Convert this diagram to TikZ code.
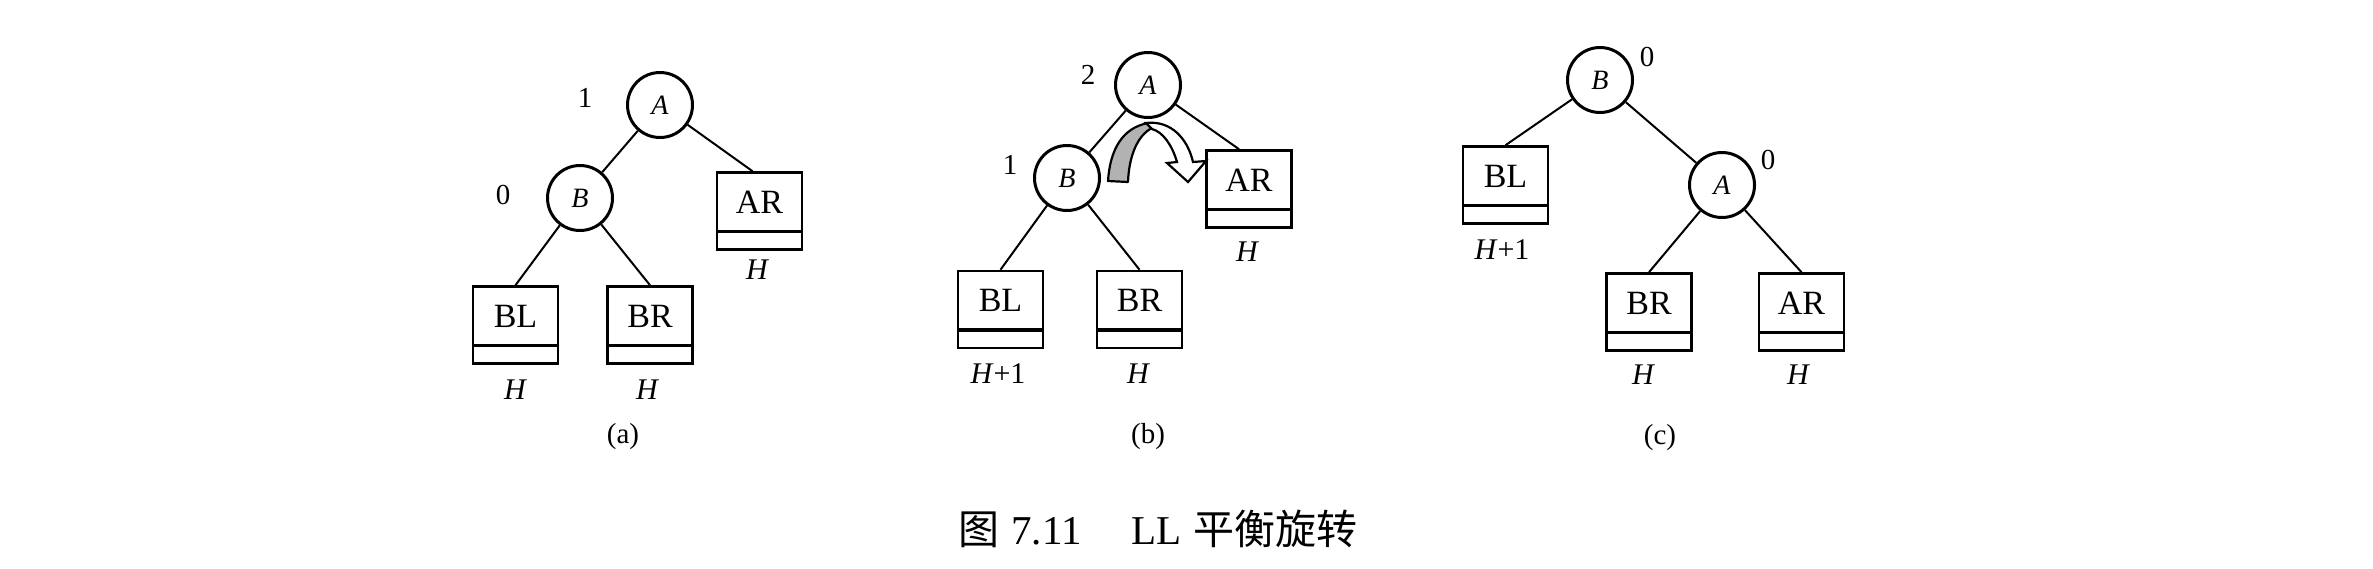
\documentclass[tikz,border=0pt]{standalone}
\usepackage{fontspec}
\setmainfont{Liberation Serif}
\newfontfamily\cjk{Noto Sans CJK SC}
\begin{document}
\begin{tikzpicture}[x=1pt,y=-1pt,
  circ/.style={circle,draw,line width=3pt,minimum size=65pt,inner sep=0pt,font=\fontsize{28}{30}\selectfont\itshape},
  sub/.style={draw,line width=2.6pt,minimum width=85pt,minimum height=77pt,inner sep=0pt,
    text height=22pt,text depth=18pt,font=\fontsize{34}{36}\selectfont,
    path picture={\draw[line width=3.5pt] ([yshift=18pt]path picture bounding box.south west) -- ([yshift=18pt]path picture bounding box.south east);}},
  edge/.style={line width=2pt},
  lbl/.style={font=\fontsize{29}{31}\selectfont,inner sep=0pt},
  hlbl/.style={font=\fontsize{30}{32}\selectfont,inner sep=0pt},
  captext/.style={font=\fontsize{41}{44}\selectfont,inner sep=0pt},
]
\useasboundingbox[fill=white] (0,0) rectangle (2373,568);

% ---------- (a) ----------
\node[circ] (Aa) at (660,105) {A};
\node[circ] (Ba) at (580,198) {B};
\node[lbl] (na1) at (585,98) {1};
\node[lbl] (na0) at (503,195) {0};
\node[sub] (ARa) at (759.5,211) {AR};
\node[sub] (BLa) at (515.5,325) {BL};
\node[sub] (BRa) at (650,325) {BR};
\node[hlbl] (hARa) at (757,270) {\itshape H};
\node[hlbl] (hBLa) at (515,390) {\itshape H};
\node[hlbl] (hBRa) at (647,390) {\itshape H};
\node[lbl] (capa) at (623,437) {(a)};
\draw[edge] (Aa) -- (Ba);
\draw[edge] (Aa) -- ([xshift=-7pt]ARa.north);
\draw[edge] (Ba) -- (BLa.north);
\draw[edge] (Ba) -- (BRa.north);

% ---------- (b) ----------
\node[circ] (Ab) at (1148,85) {A};
\node[circ] (Bb) at (1067,178) {B};
\node[lbl] (nb2) at (1088,75) {2};
\node[lbl] (nb1) at (1010,165) {1};
\node[sub] (ARb) at (1249,189) {AR};
\node[sub] (BLb) at (1000.5,309.5) {BL};
\node[sub] (BRb) at (1139.5,309.5) {BR};
\node[hlbl] (hARb) at (1247,252) {\itshape H};
\node[hlbl] (hBLb) at (998,374) {\textit{H}+1};
\node[hlbl] (hBRb) at (1138,374) {\itshape H};
\node[lbl] (capb) at (1148,437) {(b)};
\draw[edge] (Ab) -- (Bb);
\draw[edge] (Ab) -- ([xshift=-10pt]ARb.north);
\draw[edge] (Bb) -- (BLb.north);
\draw[edge] (Bb) -- (BRb.north);
% rotation arrow
\filldraw[fill=black!30,line width=2.2pt,line join=round]
  (1108,181) .. controls (1110,150) and (1122,128) .. (1148,123)
  -- (1152,128) .. controls (1138,135) and (1129,155) .. (1128,182) -- cycle;
\filldraw[fill=white,line width=2.2pt,line join=miter]
  (1146,123) .. controls (1172,120) and (1188,140) .. (1193,162)
  -- (1206,161) -- (1188,182) -- (1167,163) -- (1177,162)
  .. controls (1172,145) and (1163,132) .. (1152,129) -- cycle;

% ---------- (c) ----------
\node[circ] (Bc) at (1600,80) {B};
\node[circ] (Ac) at (1722,185) {A};
\node[lbl] (nc0b) at (1647,57) {0};
\node[lbl] (nc0a) at (1768,160) {0};
\node[sub] (BLc) at (1505.5,185) {BL};
\node[sub] (BRc) at (1649,312) {BR};
\node[sub] (ARc) at (1801.5,312) {AR};
\node[hlbl] (hBLc) at (1502,250) {\textit{H}+1};
\node[hlbl] (hBRc) at (1643,375) {\itshape H};
\node[hlbl] (hARc) at (1798,375) {\itshape H};
\node[lbl] (capc) at (1660,438) {(c)};
\draw[edge] (Bc) -- (BLc.north);
\draw[edge] (Bc) -- (Ac);
\draw[edge] (Ac) -- (BRc.north);
\draw[edge] (Ac) -- (ARc.north);

% ---------- caption ----------
\node[captext] (title) at (1158,529) {{\cjk 图}\hspace{12pt}7.11\hspace{50pt}LL\hspace{12pt}{\cjk 平衡旋转}};
\end{tikzpicture}
\end{document}
